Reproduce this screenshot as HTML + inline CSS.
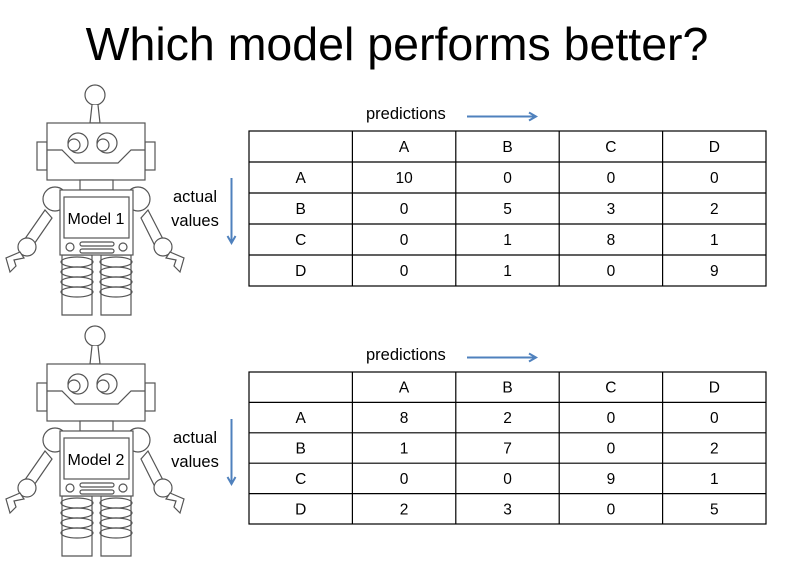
<!DOCTYPE html>
<html><head><meta charset="utf-8"><style>
body{margin:0;background:#fff;}
svg{display:block;font-family:"Liberation Sans",sans-serif;}
</style></head><body>
<svg width="788" height="564" viewBox="0 0 788 564">
<text x="397" y="60" font-size="46.5" text-anchor="middle" fill="#000">Which model performs better?</text>
<defs>
<g id="robot" fill="#fff" stroke="#555" stroke-width="1.2">
  <circle cx="95" cy="95" r="10"/>
  <path d="M92 105 L90 123 L100 123 L98 105"/>
  <rect x="37" y="142" width="10" height="28"/>
  <rect x="145" y="142" width="10" height="28"/>
  <rect x="47" y="123" width="98" height="57"/>
  <path d="M47 150 L62 150 L75 163 L118 163 L131 150 L145 150"/>
  <circle cx="78" cy="143" r="10"/><circle cx="74" cy="145" r="6"/>
  <circle cx="107" cy="143" r="10"/><circle cx="103" cy="145" r="6"/>
  <rect x="80" y="180" width="33" height="10"/>
  <path d="M45 210 L22 243 L30 250 L52 218Z"/>
  <path d="M148 210 L165 243 L157 250 L141 218Z"/>
  <circle cx="55" cy="199" r="12"/><circle cx="138" cy="199" r="12"/>
  <circle cx="27" cy="247" r="9"/><circle cx="163" cy="247" r="9"/>
  <path d="M20 252 L6 258 L10 272 L16 266 L14 260 L24 258Z"/>
  <path d="M170 252 L184 258 L180 272 L174 266 L176 260 L166 258Z"/>
  <path d="M62 255 h30 v60 h-30z M101 255 h30 v60 h-30z"/>
  <g fill="none">
   <ellipse cx="77" cy="262" rx="16" ry="5"/><ellipse cx="77" cy="272" rx="16" ry="5"/><ellipse cx="77" cy="282" rx="16" ry="5"/><ellipse cx="77" cy="292" rx="16" ry="5"/>
   <ellipse cx="116" cy="262" rx="16" ry="5"/><ellipse cx="116" cy="272" rx="16" ry="5"/><ellipse cx="116" cy="282" rx="16" ry="5"/><ellipse cx="116" cy="292" rx="16" ry="5"/>
  </g>
  <rect x="60" y="190" width="73" height="65"/>
  <rect x="64" y="197" width="65" height="41"/>
  <circle cx="70" cy="247" r="4"/><circle cx="123" cy="247" r="4"/>
  <rect x="80" y="242" width="34" height="4" rx="2"/><rect x="80" y="249" width="34" height="4" rx="2"/>
</g>
</defs>
<g id="sec1"></g>
<g id="sec2"></g>
</svg>
<script>
const categories = ["A","B","C","D"];
const model1 = [[10,0,0,0],[0,5,3,2],[0,1,8,1],[0,1,0,9]];
const model2 = [[8,2,0,0],[1,7,0,2],[0,0,9,1],[2,3,0,5]];
const modelLabels = ["Model 1","Model 2"];
const NS="http://www.w3.org/2000/svg";
function mk(tag,attrs,parent){const e=document.createElementNS(NS,tag);for(const k in attrs)e.setAttribute(k,attrs[k]);parent.appendChild(e);return e;}
function section(g,dy,mat,label,rowH){
  const u=mk('use',{href:'#robot',transform:`translate(0,${dy})`},g);
  
  
  const ml=mk('text',{x:96,y:224+dy,'font-size':16,'text-anchor':'middle'},g);ml.textContent=label;
  
  
  const p=mk('text',{x:366,y:119+dy,'font-size':16.5},g);p.textContent='predictions';
  
  
  const a1=mk('path',{d:`M467 116.5 H535 M529 112.5 L536 116.5 L529 120.5`,stroke:'#4f81bd','stroke-width':2,fill:'none',transform:`translate(0,${dy})`},g);
  
  
  const t1=mk('text',{x:195,y:202+dy,'font-size':16.5,'text-anchor':'middle'},g);t1.textContent='actual';
  
  
  const t2=mk('text',{x:195,y:226+dy,'font-size':16.5,'text-anchor':'middle'},g);t2.textContent='values';
  
  
  const a2=mk('path',{d:`M231.5 178 V242 M227.5 236 L231.5 243 L235.5 236`,stroke:'#4f81bd','stroke-width':2,fill:'none',transform:`translate(0,${dy})`},g);
  
  
  const x0=249,x1=766,y0=131+dy,n=categories.length+1,cw=(x1-x0)/n;
  const tbl=mk('g',{},g);
  
  
  mk('rect',{x:x0,y:y0,width:x1-x0,height:rowH*n,fill:'none',stroke:'#000','stroke-width':1.2},tbl);
  for(let i=1;i<n;i++){
    mk('line',{x1:x0+i*cw,x2:x0+i*cw,y1:y0,y2:y0+rowH*n,stroke:'#000','stroke-width':1.2},tbl);
    mk('line',{x1:x0,x2:x1,y1:y0+i*rowH,y2:y0+i*rowH,stroke:'#000','stroke-width':1.2},tbl);
  }
  for(let r=0;r<n;r++)for(let c=0;c<n;c++){
    let s='';
    if(r===0&&c>0)s=categories[c-1];
    else if(c===0&&r>0)s=categories[r-1];
    else if(r>0&&c>0)s=String(mat[r-1][c-1]);
    if(!s)continue;
    const t=mk('text',{x:x0+(c+0.5)*cw,y:y0+(r+0.5)*rowH+5.5,'font-size':15.5,'text-anchor':'middle'},tbl);
    t.textContent=s;
    
    
  }
}
section(document.getElementById('sec1'),0,model1,modelLabels[0],31);
section(document.getElementById('sec2'),241,model2,modelLabels[1],30.4);
</script>
</body></html>
